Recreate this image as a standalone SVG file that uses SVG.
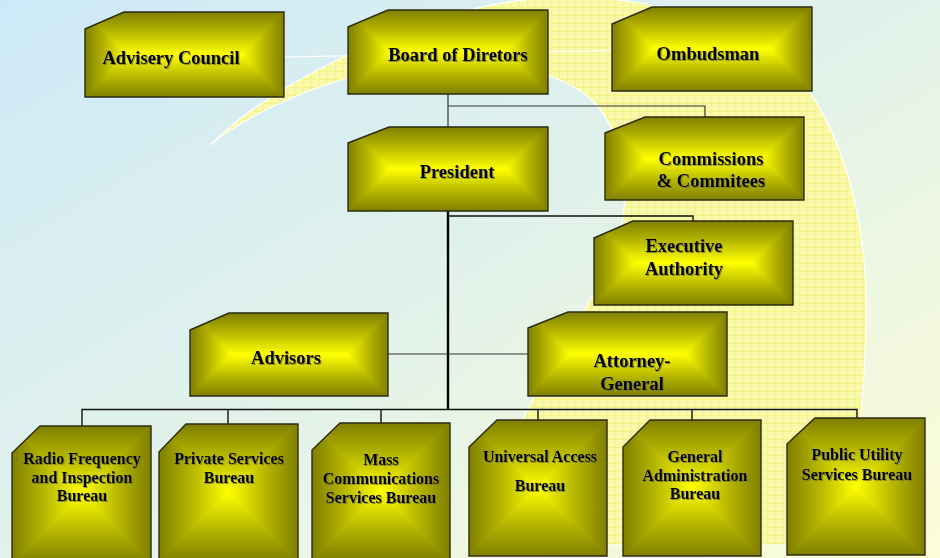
<svg xmlns="http://www.w3.org/2000/svg" width="940" height="558" viewBox="0 0 940 558">
<defs>
<linearGradient id="bg" x1="0" y1="0" x2="1" y2="1">
<stop offset="0" stop-color="#cde9f8"/>
<stop offset="0.5" stop-color="#e2f2ea"/>
<stop offset="1" stop-color="#fdfdd6"/>
</linearGradient>
<pattern id="grid" width="8" height="8" patternUnits="userSpaceOnUse">
<rect width="8" height="8" fill="#f9f9a8"/>
<path d="M7.5 0V8M0 7.5H8" stroke="#f3f37c" stroke-width="0.8" fill="none"/>
</pattern>
<linearGradient id="gT" x1="0" y1="0" x2="0" y2="1"><stop offset="0" stop-color="#7f7f00"/><stop offset="0.45" stop-color="#b4b400"/><stop offset="1" stop-color="#ffff00"/></linearGradient>
<linearGradient id="gB" x1="0" y1="1" x2="0" y2="0"><stop offset="0" stop-color="#7f7f00"/><stop offset="0.45" stop-color="#b4b400"/><stop offset="1" stop-color="#ffff00"/></linearGradient>
<linearGradient id="gL" x1="0" y1="0" x2="1" y2="0"><stop offset="0" stop-color="#7f7f00"/><stop offset="0.45" stop-color="#b4b400"/><stop offset="1" stop-color="#ffff00"/></linearGradient>
<linearGradient id="gR" x1="1" y1="0" x2="0" y2="0"><stop offset="0" stop-color="#7f7f00"/><stop offset="0.45" stop-color="#b4b400"/><stop offset="1" stop-color="#ffff00"/></linearGradient>
<filter id="sh" x="-5%" y="-20%" width="110%" height="140%">
<feDropShadow dx="1" dy="1" stdDeviation="0.4" flood-color="#6a6a40" flood-opacity="0.7"/>
</filter>
<clipPath id="c-adv"><path d="M85 29L124 12H284V97H85Z"/></clipPath>
<clipPath id="c-board"><path d="M348 27L388 10H548V94H348Z"/></clipPath>
<clipPath id="c-omb"><path d="M612 24L652 7H812V91H612Z"/></clipPath>
<clipPath id="c-pres"><path d="M348 143L389 127H548V211H348Z"/></clipPath>
<clipPath id="c-com"><path d="M605 133L645 117H804V200H605Z"/></clipPath>
<clipPath id="c-exe"><path d="M594 238L633 221H793V305H594Z"/></clipPath>
<clipPath id="c-advs"><path d="M190 330L229 313H388V396H190Z"/></clipPath>
<clipPath id="c-att"><path d="M528 328L568 312H727V396H528Z"/></clipPath>
<clipPath id="c-rad"><path d="M12 453L40 426H151V563H12Z"/></clipPath>
<clipPath id="c-pri"><path d="M159 452L186 424H298V561H159Z"/></clipPath>
<clipPath id="c-mass"><path d="M312 450L340 423H450V560H312Z"/></clipPath>
<clipPath id="c-uni"><path d="M469 447L497 420H607V556H469Z"/></clipPath>
<clipPath id="c-gen"><path d="M623 447L650 420H761V556H623Z"/></clipPath>
<clipPath id="c-pub"><path d="M787 444L815 418H925V555H787Z"/></clipPath>
</defs>
<style>
.t{fill:url(#gT);stroke:url(#gT)}.b{fill:url(#gB);stroke:url(#gB)}.l{fill:url(#gL);stroke:url(#gL)}.r{fill:url(#gR);stroke:url(#gR)}
.t,.b,.l,.r{stroke-width:1.2;stroke-linejoin:round}
.edge{fill:none;stroke:#2b2b10;stroke-width:1.4;stroke-linejoin:miter}
text{font-family:"Liberation Serif","Times New Roman",serif;font-weight:bold;fill:#000;text-anchor:middle;filter:url(#sh)}
.big{font-size:18.5px}
.sm{font-size:16px}
.thin{fill:none;stroke:#333;stroke-width:1.2}
.trunk{fill:none;stroke:#000;stroke-width:2.4}
.blk{fill:none;stroke:#111;stroke-width:1.4}
</style>

<g id="background">
<rect width="940" height="558" fill="url(#bg)"/>
<path d="M210 145C260 95 360 40 470 10C560 -15 700 -5 780 60C840 110 870 220 866 330C864 400 855 480 852 545L466 545C490 480 540 380 590 300C640 230 632 140 592 100C545 58 440 55 360 75C300 90 240 120 210 145Z" fill="url(#grid)" stroke="#ffffff" stroke-width="1.2"/>
<path d="M232 58L640 50" stroke="#ffffff" stroke-width="1.2" fill="none" opacity="0.9"/>
</g>

<g id="connectors">
<path class="thin" d="M448 94V127"/>
<path class="thin" d="M448 106H705V117"/>
<path class="trunk" d="M448 211V410"/>
<path class="blk" d="M448 216H693V221"/>
<path class="thin" d="M388 354H528" stroke="#555"/>
<path class="blk" d="M82 426V409.5H857V418"/>
<path class="blk" d="M228 409.5V424M381 409.5V423M538 409.5V420M692 409.5V420"/>
</g>

<g id="advisery-council">
<g clip-path="url(#c-adv)">
<polygon class="t" points="85,12 284,12 241.5,54.5 127.5,54.5"/>
<polygon class="b" points="85,97 284,97 241.5,54.5 127.5,54.5"/>
<polygon class="l" points="85,12 127.5,54.5 85,97"/>
<polygon class="r" points="284,12 241.5,54.5 284,97"/>
</g>
<path class="edge" d="M85 29L124 12H284V97H85Z"/>
<text class="big" x="171" y="64">Advisery Council</text>
</g>

<g id="board">
<g clip-path="url(#c-board)">
<polygon class="t" points="348,10 548,10 506,52 390,52"/>
<polygon class="b" points="348,94 548,94 506,52 390,52"/>
<polygon class="l" points="348,10 390,52 348,94"/>
<polygon class="r" points="548,10 506,52 548,94"/>
</g>
<path class="edge" d="M348 27L388 10H548V94H348Z"/>
<text class="big" x="458" y="61">Board of Diretors</text>
</g>

<g id="ombudsman">
<g clip-path="url(#c-omb)">
<polygon class="t" points="612,7 812,7 770,49 654,49"/>
<polygon class="b" points="612,91 812,91 770,49 654,49"/>
<polygon class="l" points="612,7 654,49 612,91"/>
<polygon class="r" points="812,7 770,49 812,91"/>
</g>
<path class="edge" d="M612 24L652 7H812V91H612Z"/>
<text class="big" x="708" y="60">Ombudsman</text>
</g>

<g id="president">
<g clip-path="url(#c-pres)">
<polygon class="t" points="348,127 548,127 506,169 390,169"/>
<polygon class="b" points="348,211 548,211 506,169 390,169"/>
<polygon class="l" points="348,127 390,169 348,211"/>
<polygon class="r" points="548,127 506,169 548,211"/>
</g>
<path class="edge" d="M348 143L389 127H548V211H348Z"/>
<text class="big" x="457" y="178">President</text>
</g>

<g id="commissions">
<g clip-path="url(#c-com)">
<polygon class="t" points="605,117 804,117 762.5,158.5 646.5,158.5"/>
<polygon class="b" points="605,200 804,200 762.5,158.5 646.5,158.5"/>
<polygon class="l" points="605,117 646.5,158.5 605,200"/>
<polygon class="r" points="804,117 762.5,158.5 804,200"/>
</g>
<path class="edge" d="M605 133L645 117H804V200H605Z"/>
<text class="big" x="711" y="165">Commissions</text>
<text class="big" x="711" y="187">&amp; Commitees</text>
</g>

<g id="executive">
<g clip-path="url(#c-exe)">
<polygon class="t" points="594,221 793,221 751,263 636,263"/>
<polygon class="b" points="594,305 793,305 751,263 636,263"/>
<polygon class="l" points="594,221 636,263 594,305"/>
<polygon class="r" points="793,221 751,263 793,305"/>
</g>
<path class="edge" d="M594 238L633 221H793V305H594Z"/>
<text class="big" x="684" y="252">Executive</text>
<text class="big" x="684" y="275">Authority</text>
</g>

<g id="advisors">
<g clip-path="url(#c-advs)">
<polygon class="t" points="190,313 388,313 346.5,354.5 231.5,354.5"/>
<polygon class="b" points="190,396 388,396 346.5,354.5 231.5,354.5"/>
<polygon class="l" points="190,313 231.5,354.5 190,396"/>
<polygon class="r" points="388,313 346.5,354.5 388,396"/>
</g>
<path class="edge" d="M190 330L229 313H388V396H190Z"/>
<text class="big" x="286" y="364">Advisors</text>
</g>

<g id="attorney">
<g clip-path="url(#c-att)">
<polygon class="t" points="528,312 727,312 685,354 570,354"/>
<polygon class="b" points="528,396 727,396 685,354 570,354"/>
<polygon class="l" points="528,312 570,354 528,396"/>
<polygon class="r" points="727,312 685,354 727,396"/>
</g>
<path class="edge" d="M528 328L568 312H727V396H528Z"/>
<text class="big" x="632" y="367">Attorney-</text>
<text class="big" x="632" y="390">General</text>
</g>

<g id="radio">
<g clip-path="url(#c-rad)">
<polygon class="t" points="12,426 151,426 81.5,494.5"/>
<polygon class="b" points="12,563 151,563 81.5,494.5"/>
<polygon class="l" points="12,426 81.5,494.5 12,563"/>
<polygon class="r" points="151,426 81.5,494.5 151,563"/>
</g>
<path class="edge" d="M12 453L40 426H151V563H12Z"/>
<text class="sm" x="82" y="464">Radio Frequency</text>
<text class="sm" x="82" y="482.5">and Inspection</text>
<text class="sm" x="82" y="501">Bureau</text>
</g>

<g id="private">
<g clip-path="url(#c-pri)">
<polygon class="t" points="159,424 298,424 228.5,492.5"/>
<polygon class="b" points="159,561 298,561 228.5,492.5"/>
<polygon class="l" points="159,424 228.5,492.5 159,561"/>
<polygon class="r" points="298,424 228.5,492.5 298,561"/>
</g>
<path class="edge" d="M159 452L186 424H298V561H159Z"/>
<text class="sm" x="229" y="464">Private Services</text>
<text class="sm" x="229" y="483">Bureau</text>
</g>

<g id="mass">
<g clip-path="url(#c-mass)">
<polygon class="t" points="312,423 450,423 381,491.5"/>
<polygon class="b" points="312,560 450,560 381,491.5"/>
<polygon class="l" points="312,423 381,491.5 312,560"/>
<polygon class="r" points="450,423 381,491.5 450,560"/>
</g>
<path class="edge" d="M312 450L340 423H450V560H312Z"/>
<text class="sm" x="381" y="465">Mass</text>
<text class="sm" x="381" y="484">Communications</text>
<text class="sm" x="381" y="503">Services Bureau</text>
</g>

<g id="universal">
<g clip-path="url(#c-uni)">
<polygon class="t" points="469,420 607,420 538,488"/>
<polygon class="b" points="469,556 607,556 538,488"/>
<polygon class="l" points="469,420 538,488 469,556"/>
<polygon class="r" points="607,420 538,488 607,556"/>
</g>
<path class="edge" d="M469 447L497 420H607V556H469Z"/>
<text class="sm" x="540" y="462">Universal Access</text>
<text class="sm" x="540" y="491">Bureau</text>
</g>

<g id="general">
<g clip-path="url(#c-gen)">
<polygon class="t" points="623,420 761,420 692,488"/>
<polygon class="b" points="623,556 761,556 692,488"/>
<polygon class="l" points="623,420 692,488 623,556"/>
<polygon class="r" points="761,420 692,488 761,556"/>
</g>
<path class="edge" d="M623 447L650 420H761V556H623Z"/>
<text class="sm" x="695" y="462">General</text>
<text class="sm" x="695" y="481">Administration</text>
<text class="sm" x="695" y="499">Bureau</text>
</g>

<g id="public">
<g clip-path="url(#c-pub)">
<polygon class="t" points="787,418 925,418 856,486.5"/>
<polygon class="b" points="787,555 925,555 856,486.5"/>
<polygon class="l" points="787,418 856,486.5 787,555"/>
<polygon class="r" points="925,418 856,486.5 925,555"/>
</g>
<path class="edge" d="M787 444L815 418H925V555H787Z"/>
<text class="sm" x="857" y="460">Public Utility</text>
<text class="sm" x="857" y="480">Services Bureau</text>
</g>
</svg>
